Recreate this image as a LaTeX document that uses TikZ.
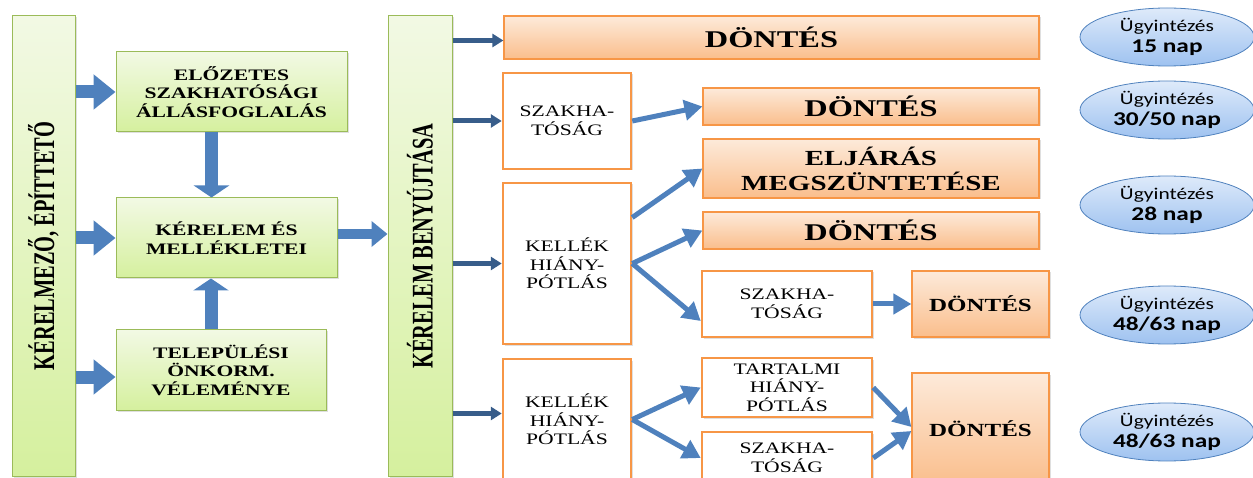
\documentclass[tikz,border=0pt]{standalone}
\usepackage{fontspec}
\setmainfont{Liberation Serif}
\newfontfamily\wideserif[FakeStretch=1.35]{Liberation Serif}
\newfontfamily\narrowserif[FakeStretch=0.68]{Liberation Serif}
\newfontfamily\widesans[FakeStretch=1.3]{Carlito}
\usetikzlibrary{shapes,arrows.meta,positioning,calc,shadows}
\definecolor{greenedge}{RGB}{155,187,89}
\definecolor{greentop}{RGB}{242,249,228}
\definecolor{greenbottom}{RGB}{213,240,158}
\definecolor{orangeedge}{RGB}{247,150,70}
\definecolor{orangetop}{RGB}{253,234,218}
\definecolor{orangebottom}{RGB}{250,190,140}
\definecolor{arrowblue}{RGB}{79,129,189}
\definecolor{darkblue}{RGB}{56,93,138}
\definecolor{elltop}{RGB}{222,234,250}
\definecolor{ellbottom}{RGB}{158,194,240}
\newcommand{\napfont}{\bfseries\fontsize{19.5}{21}\selectfont}

\begin{document}
\begin{tikzpicture}[x=1pt, y=1pt,
    greenbox/.style={draw=greenedge, line width=1pt, top color=greentop, bottom color=greenbottom, inner sep=0pt, align=center,
        drop shadow={shadow xshift=1.5pt, shadow yshift=-1.5pt, opacity=0.25},
        font=\wideserif\bfseries\fontsize{16}{18.5}\selectfont},
    bartext/.style={rotate=90, font=\narrowserif\bfseries\fontsize{30}{30}\selectfont},
    orangebox/.style={draw=orangeedge, line width=1.2pt, top color=orangetop, bottom color=orangebottom, inner sep=0pt, align=center,
        drop shadow={shadow xshift=1.5pt, shadow yshift=-1.5pt, opacity=0.25},
        font=\wideserif\bfseries\fontsize{24}{25}\selectfont},
    whitebox/.style={draw=orangeedge, line width=2.5pt, fill=white, inner sep=0pt, align=center,
        drop shadow={shadow xshift=1.5pt, shadow yshift=-1.5pt, opacity=0.25},
        font=\wideserif\fontsize{16}{18.5}\selectfont},
    timebox/.style={ellipse, draw=arrowblue, line width=0.8pt, top color=elltop, bottom color=ellbottom, inner sep=0pt, align=center,
        minimum width=174, minimum height=58, font=\widesans\fontsize{16.5}{21}\selectfont},
    fatarrow/.style={draw=arrowblue, line width=13pt, -{Triangle[width=34pt,length=22pt]}},
    fatdown/.style={draw=arrowblue, line width=13pt, -{Triangle[width=35pt,length=12pt]}},
    midarrow/.style={draw=arrowblue, line width=10pt, -{Triangle[width=25pt,length=16pt]}},
    thinarrow/.style={draw=darkblue, line width=5pt, -{Triangle[width=13pt,length=11pt]}},
    bluearrow/.style={draw=arrowblue, line width=5pt, -{Triangle[width=20pt,length=18pt]}}
]
\useasboundingbox (0,0) rectangle (1253,-478);

% Applicant and preparation
\node[greenbox, minimum width=63, minimum height=460] (kerelmezo) at (43.5,-246) {};
\node[bartext] at (kerelmezo) {KÉRELMEZŐ, ÉPÍTTETŐ};
\node[greenbox, minimum width=231, minimum height=80] (elozetes) at (231.5,-92) {ELŐZETES\\SZAKHATÓSÁGI\\ÁLLÁSFOGLALÁS};
\node[greenbox, minimum width=221, minimum height=80] (kerelem) at (226.5,-238) {KÉRELEM ÉS\\MELLÉKLETEI};
\node[greenbox, minimum width=210, minimum height=80] (telepulesi) at (221,-370) {TELEPÜLÉSI\\ÖNKORM.\\VÉLEMÉNYE};

% Submission
\node[greenbox, minimum width=64, minimum height=460] (benyujtas) at (420,-246) {};
\node[bartext] at (benyujtas) {KÉRELEM BENYÚJTÁSA};

% Procedure branches
\node[orangebox, minimum width=535, minimum height=43] (dontesA) at (771.5,-37.5) {DÖNTÉS};
\node[whitebox, minimum width=128, minimum height=96] (szakhaA) at (567,-121) {SZAKHA-\\TÓSÁG};
\node[whitebox, minimum width=128, minimum height=161] (kellekA) at (567,-263.5) {KELLÉK\\HIÁNY-\\PÓTLÁS};
\node[whitebox, minimum width=128, minimum height=121] (kellekB) at (567,-419.5) {KELLÉK\\HIÁNY-\\PÓTLÁS};

\node[orangebox, minimum width=336, minimum height=37] (dontesB) at (871,-106.5) {DÖNTÉS};
\node[orangebox, minimum width=336, minimum height=59, font=\wideserif\bfseries\fontsize{21.5}{25}\selectfont] (eljaras) at (871,-168.5) {ELJÁRÁS\\MEGSZÜNTETÉSE};
\node[orangebox, minimum width=336, minimum height=37] (dontesC) at (871,-230.5) {DÖNTÉS};
\node[whitebox, minimum width=170, minimum height=66] (szakhaB) at (787,-304) {SZAKHA-\\TÓSÁG};
\node[orangebox, minimum width=137, minimum height=66, font=\wideserif\bfseries\fontsize{18.5}{20}\selectfont] (dontesD) at (980.5,-304) {DÖNTÉS};
\node[whitebox, minimum width=170, minimum height=59] (tartalmi) at (787,-387.5) {TARTALMI\\HIÁNY-\\PÓTLÁS};
\node[whitebox, minimum width=170, minimum height=52] (szakhaC) at (787,-458) {SZAKHA-\\TÓSÁG};
\node[orangebox, minimum width=137, minimum height=112, font=\wideserif\bfseries\fontsize{18.5}{20}\selectfont] (dontesE) at (980.5,-429) {DÖNTÉS};

% Deadlines
\node[timebox] (idoA) at (1167,-37) {Ügyintézés\\{\napfont 15 nap}};
\node[timebox] (idoB) at (1167,-110) {Ügyintézés\\{\napfont 30/50 nap}};
\node[timebox] (idoC) at (1167,-205) {Ügyintézés\\{\napfont 28 nap}};
\node[timebox] (idoD) at (1167,-315) {Ügyintézés\\{\napfont 48/63 nap}};
\node[timebox] (idoE) at (1167,-432) {Ügyintézés\\{\napfont 48/63 nap}};

% Arrows
\draw[fatarrow] (kerelmezo.east |- elozetes.west) -- (elozetes.west);
\draw[fatarrow] (kerelmezo.east |- kerelem.west) -- (kerelem.west);
\draw[fatarrow] ([yshift=-7pt]kerelmezo.east |- telepulesi.west) -- ([yshift=-7pt]telepulesi.west);
\draw[fatdown] ([xshift=-20pt]elozetes.south) -- ([xshift=-20pt]elozetes.south |- kerelem.north);
\draw[fatdown] ([xshift=-10pt]telepulesi.north) -- ([xshift=-10pt]telepulesi.north |- kerelem.south);
\draw[midarrow] ([yshift=4pt]kerelem.east) -- ([yshift=4pt]kerelem.east -| benyujtas.west);

\draw[thinarrow] ([yshift=-3pt]benyujtas.east |- dontesA.west) -- ([yshift=-3pt]dontesA.west);
\draw[thinarrow] (benyujtas.east |- szakhaA.west) -- (szakhaA.west);
\draw[thinarrow] (benyujtas.east |- kellekA.west) -- (kellekA.west);
\draw[thinarrow] ([yshift=6pt]benyujtas.east |- kellekB.west) -- ([yshift=6pt]kellekB.west);

\draw[bluearrow] (szakhaA.east) -- (dontesB.west);
\draw[bluearrow] ([yshift=46pt]kellekA.east) -- (eljaras.west);
\draw[bluearrow] (kellekA.east) -- (dontesC.west);
\draw[bluearrow] (kellekA.east) -- ([yshift=-17pt]szakhaB.west);
\draw[bluearrow] (szakhaB.east) -- (dontesD.west);
\draw[bluearrow] (kellekB.east) -- (tartalmi.west);
\draw[bluearrow] (kellekB.east) -- (szakhaC.west);
\draw[bluearrow] (tartalmi.east) -- ([yshift=2pt]dontesE.west);
\draw[bluearrow] (szakhaC.east) -- ([yshift=-2pt]dontesE.west);

\end{tikzpicture}
\end{document}
